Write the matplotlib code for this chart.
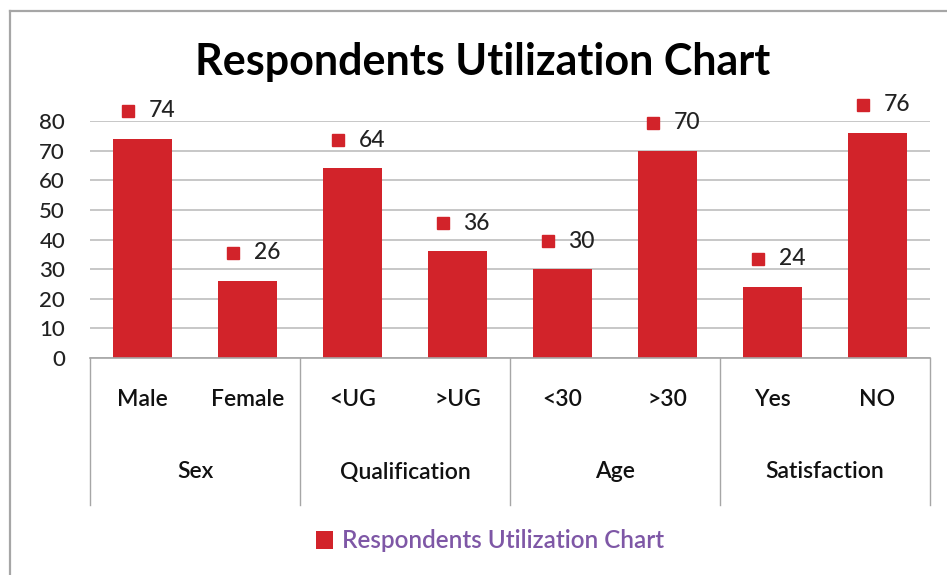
import matplotlib.pyplot as plt
import matplotlib.transforms as mtransforms
from matplotlib.lines import Line2D

# data
groups = ["Sex", "Qualification", "Age", "Satisfaction"]
categories = ["Male", "Female", "<UG", ">UG", "<30", ">30", "Yes", "NO"]
values = [74, 26, 64, 36, 30, 70, 24, 76]
series_name = "Respondents Utilization Chart"

bar_color = "#D2232A"
grid_color = "#BEBEBE"
font = ["Lato", "DejaVu Sans"]

plt.rcParams["font.family"] = font

fig = plt.figure(figsize=(9.47, 5.75), dpi=100)
ax = fig.add_axes([90 / 947, 1 - 358 / 575, 840 / 947, 237 / 575])

x = list(range(len(categories)))
bars = ax.bar(x, values, width=0.56, color=bar_color, zorder=3, label=series_name)

ax.set_xlim(-0.5, len(categories) - 0.5)
ax.set_ylim(0, 80)
ax.set_yticks(range(0, 81, 10))
ax.tick_params(axis="y", length=0, pad=18, labelsize=16, labelcolor="#222222")
for lab in ax.get_yticklabels():
    lab.set_fontweight("medium")
ax.set_xticks([])
for s in ax.spines.values():
    s.set_visible(False)
ax.yaxis.grid(True, color=grid_color, linewidth=1.2, zorder=0)

# data labels: small square + value
for xi, v in zip(x, values):
    ax.plot(xi - 0.14, v, marker="s", markersize=9, color=bar_color,
            transform=ax.transData + mtransforms.ScaledTranslation(0, 28 / 100, fig.dpi_scale_trans),
            clip_on=False, zorder=4)
    ax.annotate(str(v), (xi, v), xytext=(6, 28), textcoords="offset pixels",
                ha="left", va="center", fontsize=16.5, color="#222222",
                fontweight="medium", annotation_clip=False)

# multi-level category axis
trans = mtransforms.blended_transform_factory(ax.transData, ax.transAxes)
bottom = -147 / 237
ax.plot([-0.5, len(categories) - 0.5], [0, 0], color="#A6A6A6", lw=1.2,
        transform=trans, clip_on=False, zorder=5)
for i in range(len(groups) + 1):
    xe = i * 2 - 0.5
    ax.plot([xe, xe], [0, bottom], color="#A6A6A6", lw=1.0,
            transform=trans, clip_on=False)
for xi, c in zip(x, categories):
    ax.text(xi, -42 / 237, c, transform=trans, ha="center", va="center",
            fontsize=16.5, fontweight="semibold", color="#111111")
for i, g in enumerate(groups):
    ax.text(i * 2 + 0.5, -114 / 237, g, transform=trans, ha="center", va="center",
            fontsize=16.5, fontweight="semibold", color="#111111")

# title
fig.text(483 / 947, 1 - 62 / 575, series_name, ha="center", va="center",
         fontsize=31, fontweight="bold", color="#000000")

# legend
leg = fig.legend(handles=[bars], labels=[series_name], loc="center",
                 bbox_to_anchor=(490 / 947, 1 - 541 / 575), frameon=False,
                 handlelength=0.7, handleheight=0.7, handletextpad=0.4,
                 prop={"size": 17.5, "weight": "semibold"})
for t in leg.get_texts():
    t.set_color("#7E57A6")

# chart border (left and top visible)
fig.add_artist(Line2D([10 / 947, 10 / 947], [0, 1 - 11 / 575], transform=fig.transFigure,
                      color="#A6A6A6", lw=1.6))
fig.add_artist(Line2D([10 / 947, 1], [1 - 11 / 575, 1 - 11 / 575], transform=fig.transFigure,
                      color="#A6A6A6", lw=1.6))

fig.savefig("out.png", dpi=100)
